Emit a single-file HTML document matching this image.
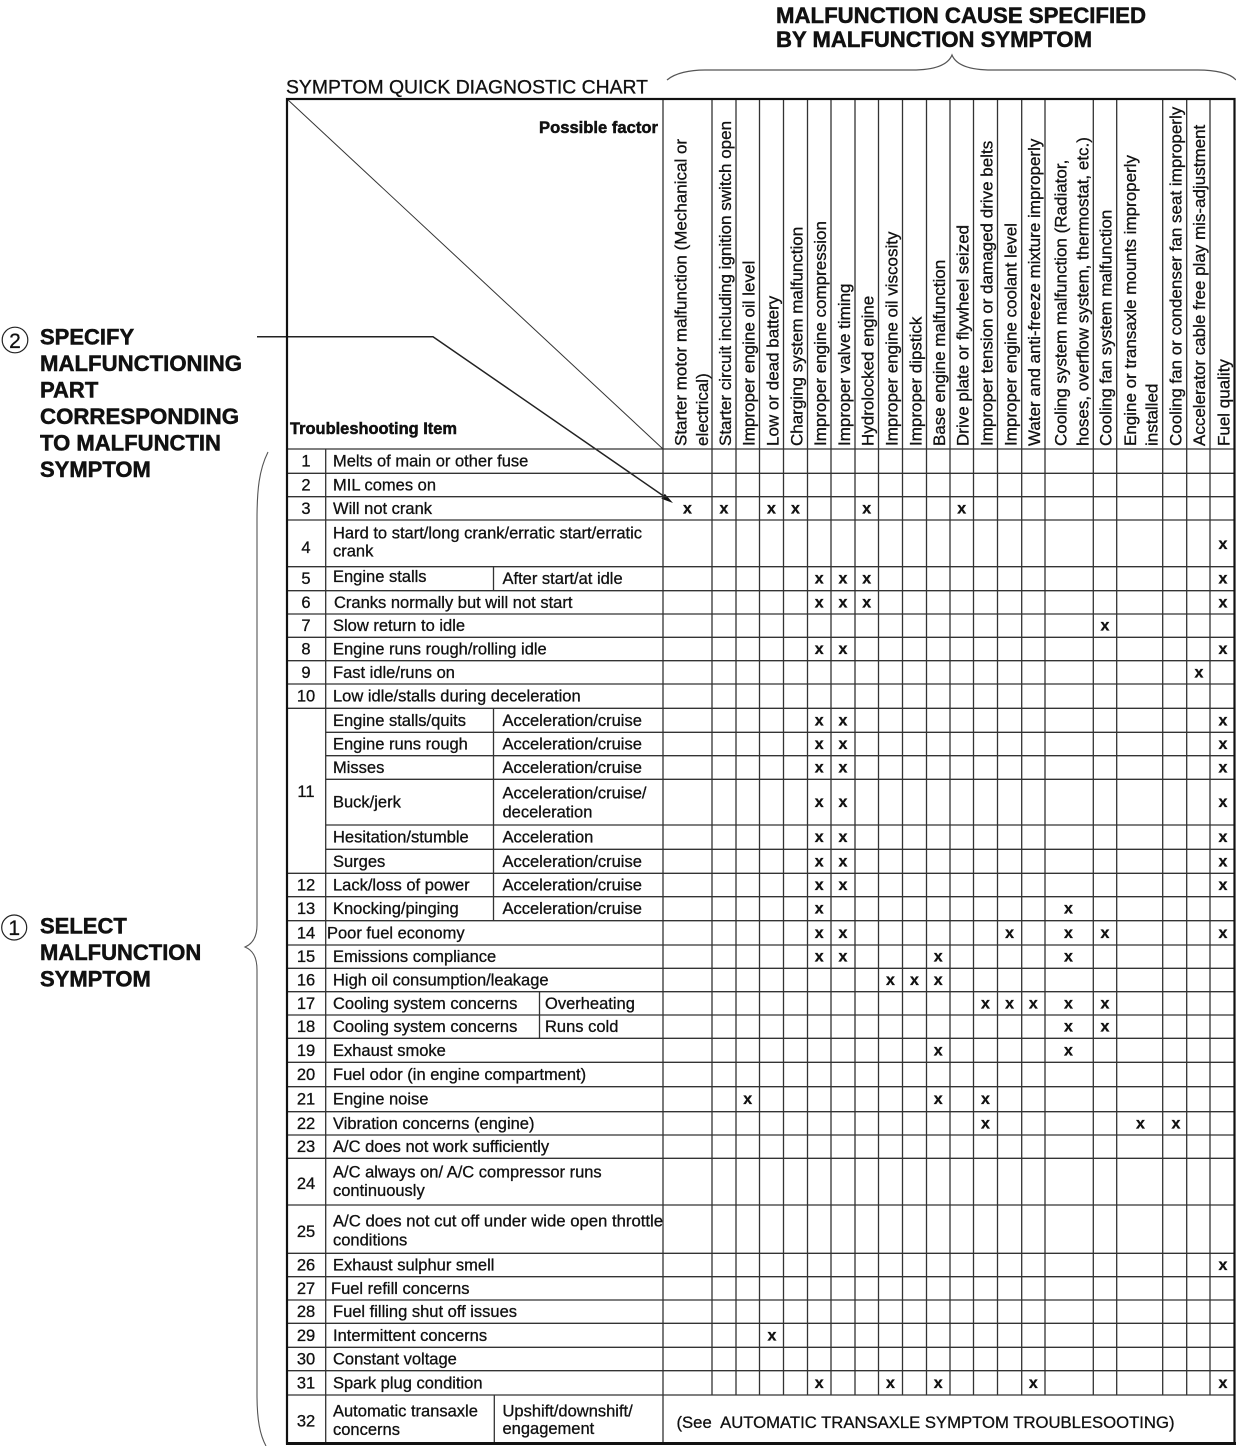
<!DOCTYPE html>
<html><head><meta charset="utf-8"><style>
html,body{margin:0;padding:0;background:#fff;}
svg{display:block;}
text{font-family:"Liberation Sans",Arial,sans-serif;fill:#111;stroke:#111;stroke-width:0.3px;}
.t{font-size:16.5px;}
.b{font-weight:bold;stroke-width:0.5px;}
.n{font-size:16.5px;text-anchor:middle;}
.x{font-size:16px;font-weight:bold;text-anchor:middle;}
.h{font-size:17px;}
</style></head><body>
<svg width="1236" height="1446" viewBox="0 0 1236 1446" xmlns="http://www.w3.org/2000/svg">
<rect x="0" y="0" width="1236" height="1446" fill="#fff"/>

<!-- Top title -->
<text x="776" y="23" class="b" style="font-size:22px" textLength="370" lengthAdjust="spacingAndGlyphs">MALFUNCTION CAUSE SPECIFIED</text>
<text x="776" y="47" class="b" style="font-size:22px" textLength="316" lengthAdjust="spacingAndGlyphs">BY MALFUNCTION SYMPTOM</text>
<path d="M667 80 C675 73,690 70,705 70 L912 70 C935 70,948 65,952 55 C956 65,969 70,992 70 L1198 70 C1215 70,1230 73,1236 80" fill="none" stroke="#555" stroke-width="1.2"/>

<text x="286" y="93.5" style="font-size:19.5px" textLength="362" lengthAdjust="spacingAndGlyphs">SYMPTOM QUICK DIAGNOSTIC CHART</text>

<!-- Left annotations -->
<circle cx="15" cy="340" r="12.8" fill="none" stroke="#222" stroke-width="1.2"/>
<text x="15" y="348" style="font-size:21px;text-anchor:middle">2</text>
<g class="b" style="font-size:22px">
<text x="40" y="344.5" class="b">SPECIFY</text>
<text x="40" y="371" class="b" textLength="202" lengthAdjust="spacingAndGlyphs">MALFUNCTIONING</text>
<text x="40" y="397.5" class="b">PART</text>
<text x="40" y="424" class="b" textLength="199" lengthAdjust="spacingAndGlyphs">CORRESPONDING</text>
<text x="40" y="450.5" class="b" textLength="181" lengthAdjust="spacingAndGlyphs">TO MALFUNCTIN</text>
<text x="40" y="477" class="b">SYMPTOM</text>
</g>
<circle cx="14.2" cy="927.5" r="12.5" fill="none" stroke="#222" stroke-width="1.2"/>
<text x="14.2" y="935" style="font-size:21px;text-anchor:middle">1</text>
<g class="b" style="font-size:22px">
<text x="40" y="933.5" class="b">SELECT</text>
<text x="40" y="960" class="b">MALFUNCTION</text>
<text x="40" y="986.5" class="b">SYMPTOM</text>
</g>
<path d="M268 452 C259 470,257 490,257 520 L257 925 C257 938,252 944,245 947 C252 950,257 956,257 970 L257 1395 C257 1420,260 1435,266 1446" fill="none" stroke="#555" stroke-width="1.1"/>

<!-- Arrow -->
<polyline points="257,336.7 433,336.7 665,497" fill="none" stroke="#222" stroke-width="1.5"/>
<polygon points="673,503 661.4,498.7 664.8,493.7" fill="#111"/>

<!-- Grid -->
<g stroke="#333" stroke-width="1.3" fill="none">
<line x1="287" y1="99" x2="663" y2="449" stroke-width="1"/>
<path d="M287 449H1234.5M287 473.3H1234.5M287 496.7H1234.5M287 520H1234.5M287 566.7H1234.5M287 590.7H1234.5M287 614H1234.5M287 637.3H1234.5M287 660.7H1234.5M287 684H1234.5M287 708.3H1234.5M326 732.3H1234.5M326 755.7H1234.5M326 779.3H1234.5M326 825H1234.5M326 849.3H1234.5M287 873.3H1234.5M287 896.7H1234.5M287 920.7H1234.5M287 945H1234.5M287 968.3H1234.5M287 991.7H1234.5M287 1015H1234.5M287 1038.3H1234.5M287 1062.3H1234.5M287 1086.7H1234.5M287 1111.7H1234.5M287 1135H1234.5M287 1158.3H1234.5M287 1205H1234.5M287 1253.3H1234.5M287 1276.7H1234.5M287 1300H1234.5M287 1323.3H1234.5M287 1347.3H1234.5M287 1370.7H1234.5M287 1395H1234.5"/>
<path d="M325.7 449V1443M663 99V1443M712 99V1395M736 99V1395M759.5 99V1395M783.5 99V1395M807.5 99V1395M831 99V1395M855 99V1395M878.5 99V1395M902.5 99V1395M926.5 99V1395M950 99V1395M973.5 99V1395M997.5 99V1395M1021.7 99V1395M1045 99V1395M1093.3 99V1395M1116.7 99V1395M1162.7 99V1395M1186.7 99V1395M1210 99V1395"/>
<path d="M493.5 566.7V590.7M493.5 708.3V920.7M539.5 991.7V1038.3M494.3 1395V1443"/>
<rect x="287" y="99" width="947.5" height="1344.5" stroke="#111" stroke-width="2.2"/>
<line x1="286" y1="1443.5" x2="1236" y2="1443.5" stroke="#111" stroke-width="3"/>
</g>

<!-- Header labels -->
<text x="539" y="133" class="b" style="font-size:16.5px" textLength="119" lengthAdjust="spacingAndGlyphs">Possible factor</text>
<text x="290" y="434" class="b" style="font-size:16.5px" textLength="167" lengthAdjust="spacingAndGlyphs">Troubleshooting Item</text>

<g class="h">
<text class="h" transform="translate(686.5,446) rotate(-90)">Starter motor malfunction (Mechanical or</text>
<text class="h" transform="translate(708,446) rotate(-90)">electrical)</text>
<text class="h" transform="translate(731,446) rotate(-90)">Starter circuit including ignition switch open</text>
<text class="h" transform="translate(754.5,446) rotate(-90)">Improper engine oil level</text>
<text class="h" transform="translate(778.5,446) rotate(-90)">Low or dead battery</text>
<text class="h" transform="translate(802.5,446) rotate(-90)">Charging system malfunction</text>
<text class="h" transform="translate(826,446) rotate(-90)">Improper engine compression</text>
<text class="h" transform="translate(850,446) rotate(-90)">Improper valve timing</text>
<text class="h" transform="translate(873.5,446) rotate(-90)">Hydrolocked engine</text>
<text class="h" transform="translate(897.5,446) rotate(-90)">Improper engine oil viscosity</text>
<text class="h" transform="translate(921.5,446) rotate(-90)">Improper dipstick</text>
<text class="h" transform="translate(945,446) rotate(-90)">Base engine malfunction</text>
<text class="h" transform="translate(968.5,446) rotate(-90)">Drive plate or flywheel seized</text>
<text class="h" transform="translate(992.5,446) rotate(-90)">Improper tension or damaged drive belts</text>
<text class="h" transform="translate(1016.7,446) rotate(-90)">Improper engine coolant level</text>
<text class="h" transform="translate(1040,446) rotate(-90)">Water and anti-freeze mixture improperly</text>
<text class="h" transform="translate(1066.5,446) rotate(-90)">Cooling system malfunction (Radiator,</text>
<text class="h" transform="translate(1088.3,446) rotate(-90)">hoses, overflow system, thermostat, etc.)</text>
<text class="h" transform="translate(1111.7,446) rotate(-90)">Cooling fan system malfunction</text>
<text class="h" transform="translate(1136,446) rotate(-90)">Engine or transaxle mounts improperly</text>
<text class="h" transform="translate(1157.7,446) rotate(-90)">installed</text>
<text class="h" transform="translate(1181.7,446) rotate(-90)">Cooling fan or condenser fan seat improperly</text>
<text class="h" transform="translate(1205,446) rotate(-90)">Accelerator cable free play mis-adjustment</text>
<text class="h" transform="translate(1229.5,446) rotate(-90)">Fuel quality</text>
</g>

<!-- Row numbers -->
<g class="n">
<text class="n" x="306" y="466.7">1</text>
<text class="n" x="306" y="490.5">2</text>
<text class="n" x="306" y="513.8">3</text>
<text class="n" x="306" y="553">4</text>
<text class="n" x="306" y="584">5</text>
<text class="n" x="306" y="607.8">6</text>
<text class="n" x="306" y="631.2">7</text>
<text class="n" x="306" y="654.5">8</text>
<text class="n" x="306" y="677.8">9</text>
<text class="n" x="306" y="701.7">10</text>
<text class="n" x="306" y="797">11</text>
<text class="n" x="306" y="890.5">12</text>
<text class="n" x="306" y="914.2">13</text>
<text class="n" x="306" y="938.3">14</text>
<text class="n" x="306" y="962.2">15</text>
<text class="n" x="306" y="985.5">16</text>
<text class="n" x="306" y="1008.8">17</text>
<text class="n" x="306" y="1032.2">18</text>
<text class="n" x="306" y="1055.8">19</text>
<text class="n" x="306" y="1080">20</text>
<text class="n" x="306" y="1104.7">21</text>
<text class="n" x="306" y="1128.8">22</text>
<text class="n" x="306" y="1152.2">23</text>
<text class="n" x="306" y="1189">24</text>
<text class="n" x="306" y="1237">25</text>
<text class="n" x="306" y="1270.5">26</text>
<text class="n" x="306" y="1293.8">27</text>
<text class="n" x="306" y="1317.2">28</text>
<text class="n" x="306" y="1340.8">29</text>
<text class="n" x="306" y="1364.5">30</text>
<text class="n" x="306" y="1388.3">31</text>
<text class="n" x="306" y="1426.5">32</text>
</g>

<!-- Row texts -->
<g class="t">
<text class="t" x="333" y="466.7">Melts of main or other fuse</text>
<text class="t" x="333" y="490.5">MIL comes on</text>
<text class="t" x="333" y="513.8">Will not crank</text>
<text class="t" x="333" y="538.3">Hard to start/long crank/erratic start/erratic</text>
<text class="t" x="333" y="556.7">crank</text>
<text class="t" x="333" y="582">Engine stalls</text>
<text class="t" x="502.5" y="584.2">After start/at idle</text>
<text class="t" x="334" y="607.8">Cranks normally but will not start</text>
<text class="t" x="333" y="631.2">Slow return to idle</text>
<text class="t" x="333" y="654.5">Engine runs rough/rolling idle</text>
<text class="t" x="333" y="677.8">Fast idle/runs on</text>
<text class="t" x="333" y="701.7">Low idle/stalls during deceleration</text>
<text class="t" x="333" y="725.8">Engine stalls/quits</text>
<text class="t" x="502.5" y="725.8">Acceleration/cruise</text>
<text class="t" x="333" y="749.5">Engine runs rough</text>
<text class="t" x="502.5" y="749.5">Acceleration/cruise</text>
<text class="t" x="333" y="773">Misses</text>
<text class="t" x="502.5" y="773">Acceleration/cruise</text>
<text class="t" x="333" y="807.5">Buck/jerk</text>
<text class="t" x="502.5" y="798.3">Acceleration/cruise/</text>
<text class="t" x="502.5" y="817.3">deceleration</text>
<text class="t" x="333" y="842.7">Hesitation/stumble</text>
<text class="t" x="502.5" y="842.7">Acceleration</text>
<text class="t" x="333" y="866.8">Surges</text>
<text class="t" x="502.5" y="866.8">Acceleration/cruise</text>
<text class="t" x="333" y="890.5">Lack/loss of power</text>
<text class="t" x="502.5" y="890.5">Acceleration/cruise</text>
<text class="t" x="333" y="914.2">Knocking/pinging</text>
<text class="t" x="502.5" y="914.2">Acceleration/cruise</text>
<text class="t" x="327" y="938.3">Poor fuel economy</text>
<text class="t" x="333" y="962.2">Emissions compliance</text>
<text class="t" x="333" y="985.5">High oil consumption/leakage</text>
<text class="t" x="333" y="1008.8">Cooling system concerns</text>
<text class="t" x="545" y="1008.8">Overheating</text>
<text class="t" x="333" y="1032.2">Cooling system concerns</text>
<text class="t" x="545" y="1032.2">Runs cold</text>
<text class="t" x="333" y="1055.8">Exhaust smoke</text>
<text class="t" x="333" y="1080">Fuel odor (in engine compartment)</text>
<text class="t" x="333" y="1104.7">Engine noise</text>
<text class="t" x="333" y="1128.8">Vibration concerns (engine)</text>
<text class="t" x="333" y="1152.2">A/C does not work sufficiently</text>
<text class="t" x="333" y="1177.5">A/C always on/ A/C compressor runs</text>
<text class="t" x="333" y="1196">continuously</text>
<text class="t" x="333" y="1226.5" textLength="330" lengthAdjust="spacingAndGlyphs">A/C does not cut off under wide open throttle</text>
<text class="t" x="333" y="1245.5">conditions</text>
<text class="t" x="333" y="1270.5">Exhaust sulphur smell</text>
<text class="t" x="331" y="1293.8">Fuel refill concerns</text>
<text class="t" x="333" y="1317.2">Fuel filling shut off issues</text>
<text class="t" x="333" y="1340.8">Intermittent concerns</text>
<text class="t" x="333" y="1364.5">Constant voltage</text>
<text class="t" x="333" y="1388.3">Spark plug condition</text>
<text class="t" x="333" y="1416.7">Automatic transaxle</text>
<text class="t" x="333" y="1435">concerns</text>
<text class="t" x="502.5" y="1416.7">Upshift/downshift/</text>
<text class="t" x="502.5" y="1434">engagement</text>
<text class="t" x="676.5" y="1428" textLength="498" lengthAdjust="spacingAndGlyphs" xml:space="preserve">(See  AUTOMATIC TRANSAXLE SYMPTOM TROUBLESOOTING)</text>
</g>

<!-- X marks -->
<g class="x">
<text class="x" x="687.5" y="513.3">x</text><text class="x" x="724" y="513.3">x</text><text class="x" x="771.5" y="513.3">x</text><text class="x" x="795.5" y="513.3">x</text><text class="x" x="866.7" y="513.3">x</text><text class="x" x="961.7" y="513.3">x</text>
<text class="x" x="1223" y="549">x</text>
<text class="x" x="819.2" y="583.7">x</text><text class="x" x="843" y="583.7">x</text><text class="x" x="866.7" y="583.7">x</text><text class="x" x="1223" y="583.7">x</text>
<text class="x" x="819.2" y="607.3">x</text><text class="x" x="843" y="607.3">x</text><text class="x" x="866.7" y="607.3">x</text><text class="x" x="1223" y="607.3">x</text>
<text class="x" x="1105" y="630.7">x</text>
<text class="x" x="819.2" y="654">x</text><text class="x" x="843" y="654">x</text><text class="x" x="1223" y="654">x</text>
<text class="x" x="1199" y="677.3">x</text>
<text class="x" x="819.2" y="725.3">x</text><text class="x" x="843" y="725.3">x</text><text class="x" x="1223" y="725.3">x</text>
<text class="x" x="819.2" y="749">x</text><text class="x" x="843" y="749">x</text><text class="x" x="1223" y="749">x</text>
<text class="x" x="819.2" y="772.5">x</text><text class="x" x="843" y="772.5">x</text><text class="x" x="1223" y="772.5">x</text>
<text class="x" x="819.2" y="807.2">x</text><text class="x" x="843" y="807.2">x</text><text class="x" x="1223" y="807.2">x</text>
<text class="x" x="819.2" y="842.2">x</text><text class="x" x="843" y="842.2">x</text><text class="x" x="1223" y="842.2">x</text>
<text class="x" x="819.2" y="866.3">x</text><text class="x" x="843" y="866.3">x</text><text class="x" x="1223" y="866.3">x</text>
<text class="x" x="819.2" y="890">x</text><text class="x" x="843" y="890">x</text><text class="x" x="1223" y="890">x</text>
<text class="x" x="819.2" y="913.7">x</text><text class="x" x="1068.5" y="913.7">x</text>
<text class="x" x="819.2" y="937.8">x</text><text class="x" x="843" y="937.8">x</text><text class="x" x="1009.6" y="937.8">x</text><text class="x" x="1068.5" y="937.8">x</text><text class="x" x="1105" y="937.8">x</text><text class="x" x="1223" y="937.8">x</text>
<text class="x" x="819.2" y="961.7">x</text><text class="x" x="843" y="961.7">x</text><text class="x" x="938.2" y="961.7">x</text><text class="x" x="1068.5" y="961.7">x</text>
<text class="x" x="890.5" y="985">x</text><text class="x" x="914.5" y="985">x</text><text class="x" x="938.2" y="985">x</text>
<text class="x" x="985.5" y="1008.3">x</text><text class="x" x="1009.6" y="1008.3">x</text><text class="x" x="1033.3" y="1008.3">x</text><text class="x" x="1068.5" y="1008.3">x</text><text class="x" x="1105" y="1008.3">x</text>
<text class="x" x="1068.5" y="1031.7">x</text><text class="x" x="1105" y="1031.7">x</text>
<text class="x" x="938.2" y="1055.3">x</text><text class="x" x="1068.5" y="1055.3">x</text>
<text class="x" x="747.7" y="1104.2">x</text><text class="x" x="938.2" y="1104.2">x</text><text class="x" x="985.5" y="1104.2">x</text>
<text class="x" x="985.5" y="1128.3">x</text><text class="x" x="1140.5" y="1128.3">x</text><text class="x" x="1176" y="1128.3">x</text>
<text class="x" x="1223" y="1270">x</text>
<text class="x" x="772" y="1340.3">x</text>
<text class="x" x="819.2" y="1387.8">x</text><text class="x" x="890.5" y="1387.8">x</text><text class="x" x="938.2" y="1387.8">x</text><text class="x" x="1033.3" y="1387.8">x</text><text class="x" x="1223" y="1387.8">x</text>
</g>
</svg>
</body></html>
